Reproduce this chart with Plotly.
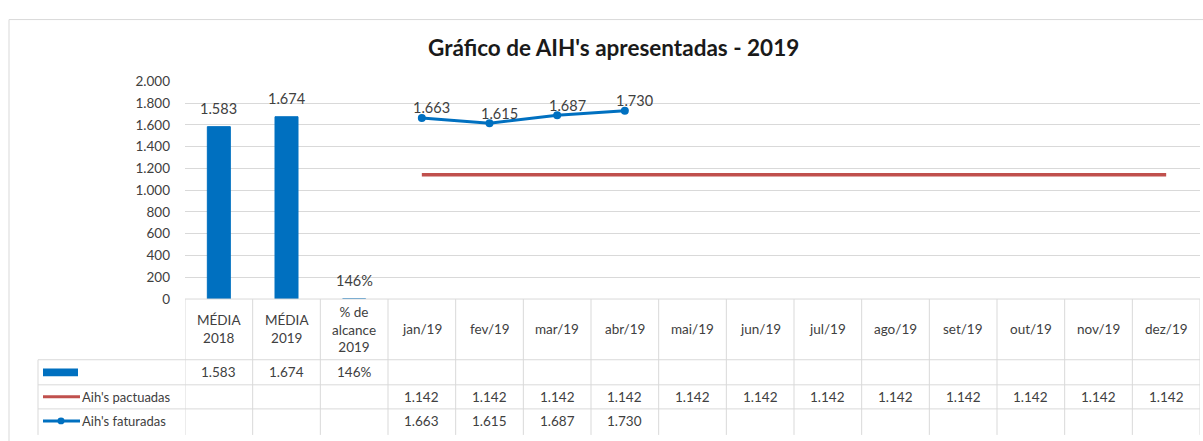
import plotly.graph_objects as go

# ---------------- data ----------------
categories = ["MÉDIA<br>2018", "MÉDIA<br>2019", "% de<br>alcance<br>2019",
              "jan/19", "fev/19", "mar/19", "abr/19", "mai/19", "jun/19",
              "jul/19", "ago/19", "set/19", "out/19", "nov/19", "dez/19"]
bar_categories = ["MÉDIA<br>2018", "MÉDIA<br>2019", "% de<br>alcance<br>2019"]
bar_values = [1583, 1674, 1.46]
bar_is_pct = [False, False, True]
months = ["jan/19", "fev/19", "mar/19", "abr/19", "mai/19", "jun/19",
          "jul/19", "ago/19", "set/19", "out/19", "nov/19", "dez/19"]
pactuadas = [1142, 1142, 1142, 1142, 1142, 1142, 1142, 1142, 1142, 1142, 1142, 1142]
faturadas_months = ["jan/19", "fev/19", "mar/19", "abr/19"]
faturadas = [1663, 1615, 1687, 1730]
y_ticks = [0, 200, 400, 600, 800, 1000, 1200, 1400, 1600, 1800, 2000]
series_names = ["", "Aih's pactuadas", "Aih's faturadas"]
title_text = "Gráfico de AIH's apresentadas - 2019"

# ---------------- styling ----------------
W, H = 1203, 441
BLUE = "#0070C0"
RED = "#C0504D"
GRID = "#D9D9D9"
TXT = "#404040"
FONT = "Lato"
CELL_SIZE = 13.5


def px(x):
    return x / W


def py(y):
    return 1 - y / H


def fmt_int(v):
    return f"{v:,.0f}".replace(",", ".")


def fmt_pct(v):
    return f"{v * 100:.0f}%"


bar_labels = [fmt_pct(v) if p else fmt_int(v) for v, p in zip(bar_values, bar_is_pct)]

fig = go.Figure()
fig.add_trace(go.Bar(
    x=bar_categories, y=bar_values, width=0.34,
    marker=dict(color=BLUE, line=dict(color=BLUE, width=1)),
    showlegend=False, hoverinfo="x+y"))
fig.add_trace(go.Scatter(
    x=months, y=pactuadas, mode="lines",
    line=dict(color=RED, width=3.5), showlegend=False))
fig.add_trace(go.Scatter(
    x=faturadas_months, y=faturadas, mode="lines+markers",
    line=dict(color=BLUE, width=3), marker=dict(color=BLUE, size=8),
    showlegend=False))

annotations = []
# data labels on bars
for c, v, lab in zip(bar_categories, bar_values, bar_labels):
    annotations.append(dict(x=c, y=v, xref="x", yref="y", text=lab, showarrow=False,
                            font=dict(family=FONT, size=14.5, color=TXT),
                            xanchor="center", yanchor="bottom", yshift=8))
# data labels on line
for c, v in zip(faturadas_months, faturadas):
    annotations.append(dict(x=c, y=v, xref="x", yref="y", text=fmt_int(v), showarrow=False,
                            font=dict(family=FONT, size=14.5, color=TXT),
                            xanchor="center", yanchor="middle", yshift=10, xshift=10))

# table geometry (pixels)
t_top, r1, r2, r3, t_bot = 302, 365, 391, 416, 441
leg_left = 38
shapes = []
# outer chart border
shapes.append(dict(type="rect", xref="paper", yref="paper",
                   x0=px(9), x1=1.01, y0=-0.02, y1=py(12),
                   line=dict(color=GRID, width=1), layer="below"))
# top line of table / category axis
shapes.append(dict(type="line", xref="x", yref="paper", x0=-0.5, x1=len(categories) - 0.5,
                   y0=py(t_top), y1=py(t_top), line=dict(color=GRID, width=1)))
# vertical grid lines of the table
for i in range(len(categories) + 1):
    shapes.append(dict(type="line", xref="x", yref="paper", x0=i - 0.5, x1=i - 0.5,
                       y0=py(t_top), y1=py(t_bot + 2), line=dict(color=GRID, width=1)))
# left line of legend column
shapes.append(dict(type="line", xref="paper", yref="paper", x0=px(leg_left), x1=px(leg_left),
                   y0=py(r1), y1=py(t_bot + 2), line=dict(color=GRID, width=1)))
# horizontal lines
for yy in (r1, r2, r3):
    shapes.append(dict(type="line", xref="paper", yref="paper", x0=px(leg_left), x1=px(1200),
                       y0=py(yy), y1=py(yy), line=dict(color=GRID, width=1)))
# legend keys
shapes.append(dict(type="rect", xref="paper", yref="paper", x0=px(43), x1=px(78),
                   y0=py(382), y1=py(374), fillcolor=BLUE, line=dict(width=0)))
shapes.append(dict(type="line", xref="paper", yref="paper", x0=px(43), x1=px(80),
                   y0=py(403.5), y1=py(403.5), line=dict(color=RED, width=3)))
shapes.append(dict(type="line", xref="paper", yref="paper", x0=px(43), x1=px(80),
                   y0=py(428.5), y1=py(428.5), line=dict(color=BLUE, width=3)))
shapes.append(dict(type="circle", xref="paper", yref="paper", x0=px(57.5), x1=px(64.5),
                   y0=py(432), y1=py(425), fillcolor=BLUE, line=dict(width=0)))

cell_font = dict(family=FONT, size=CELL_SIZE, color=TXT)
# header row
for c in categories:
    annotations.append(dict(x=c, y=py((t_top + r1) / 2), xref="x", yref="paper",
                            text=c, showarrow=False, font=cell_font,
                            xanchor="center", yanchor="middle", align="center"))
row_y = [(r1 + r2) / 2, (r2 + r3) / 2, (r3 + t_bot) / 2]
for c, lab in zip(bar_categories, bar_labels):
    annotations.append(dict(x=c, y=py(row_y[0]), xref="x", yref="paper", text=lab,
                            showarrow=False, font=cell_font, yanchor="middle"))
for c, v in zip(months, pactuadas):
    annotations.append(dict(x=c, y=py(row_y[1]), xref="x", yref="paper", text=fmt_int(v),
                            showarrow=False, font=cell_font, yanchor="middle"))
for c, v in zip(faturadas_months, faturadas):
    annotations.append(dict(x=c, y=py(row_y[2]), xref="x", yref="paper", text=fmt_int(v),
                            showarrow=False, font=cell_font, yanchor="middle"))
# legend names
for name, yy in zip(series_names[1:], row_y[1:]):
    annotations.append(dict(x=px(80), y=py(yy), xref="paper", yref="paper", text=name,
                            showarrow=False, font=dict(family=FONT, size=13, color=TXT),
                            xanchor="left", yanchor="middle"))
# title
annotations.append(dict(x=px(613), y=py(41), xref="paper", yref="paper",
                        text=f"<b>{title_text}</b>", showarrow=False,
                        font=dict(family=FONT, size=22.5, color="#1a1a1a"),
                        xanchor="center", yanchor="middle"))

fig.update_layout(
    width=W, height=H,
    margin=dict(l=0, r=0, t=0, b=0),
    paper_bgcolor="white", plot_bgcolor="white",
    separators=",.",
    font=dict(family=FONT, size=CELL_SIZE, color=TXT),
    xaxis=dict(type="category", categoryorder="array", categoryarray=categories,
               range=[-0.5, len(categories) - 0.5],
               domain=[px(185), px(1200)], showticklabels=False, showgrid=False,
               zeroline=False, showline=False, ticks=""),
    yaxis=dict(range=[0, 2000], tickvals=y_ticks, tickformat=",d",
               domain=[py(t_top), py(76)], showgrid=True, gridcolor=GRID, gridwidth=1,
               zeroline=False, showline=False, ticks="", ticklabelstandoff=14,
               tickfont=dict(family=FONT, size=CELL_SIZE, color=TXT)),
    shapes=shapes, annotations=annotations,
    bargap=0.66,
)

fig.write_html(
    "out.html",
    config={"displayModeBar": False, "staticPlot": True},
    post_script="document.documentElement.style.overflow='hidden';"
                "document.body.style.margin='0';document.body.style.overflow='hidden';",
)
